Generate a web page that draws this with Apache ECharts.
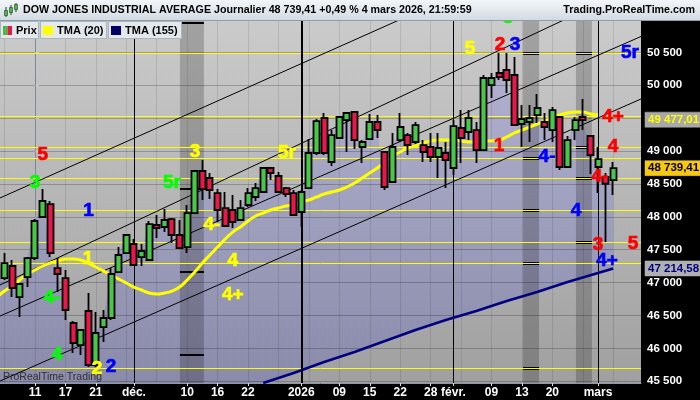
<!DOCTYPE html>
<html><head><meta charset="utf-8">
<script src="https://cdn.jsdelivr.net/npm/echarts@6/dist/echarts.min.js"></script>
<style>html,body{margin:0;padding:0;background:#000;}#c{width:700px;height:400px;}</style>
</head><body><div id="c"></div>
<script>
// ---------- DATA ----------
// trading days; position of each day on the x axis = array index + firstIndex (2025-11-11 = 0)
const firstIndex = -5;
const categories = [
'2025-11-04','2025-11-05','2025-11-06','2025-11-07','2025-11-10','2025-11-11','2025-11-12','2025-11-13','2025-11-14','2025-11-17','2025-11-18','2025-11-19','2025-11-20','2025-11-21','2025-11-24','2025-11-25','2025-11-26','2025-11-28',
'2025-12-01','2025-12-02','2025-12-03','2025-12-04','2025-12-05','2025-12-08','2025-12-09','2025-12-10','2025-12-11','2025-12-12','2025-12-15','2025-12-16','2025-12-17','2025-12-18','2025-12-19','2025-12-22','2025-12-23','2025-12-24','2025-12-26','2025-12-29','2025-12-30','2025-12-31',
'2026-01-02','2026-01-05','2026-01-06','2026-01-07','2026-01-08','2026-01-09','2026-01-12','2026-01-13','2026-01-14','2026-01-15','2026-01-16','2026-01-20','2026-01-21','2026-01-22','2026-01-23','2026-01-26','2026-01-27','2026-01-28','2026-01-29','2026-01-30',
'2026-02-02','2026-02-03','2026-02-04','2026-02-05','2026-02-06','2026-02-09','2026-02-10','2026-02-11','2026-02-12','2026-02-13','2026-02-17','2026-02-18','2026-02-19','2026-02-20','2026-02-23','2026-02-24','2026-02-25','2026-02-26','2026-02-27',
'2026-03-02','2026-03-03','2026-03-04','2026-03-05','2026-03-06','2026-03-09'];

const opens = [null,47069,47252,46780,47084,
47373,47997,48194,47221,47069,46385,46050,46568,45746,46324,
46461,47160,47449,47586,47388,47343,47875,47845,47966,47723,
47540,48057,48696,48590,48361,48133,48103,47951,48179,48301,
48377,48742,48620,48437,48361,48073,48437,48970,49502,48833,
49198,49471,49593,49061,49182,49441,48985,48529,49167,49243,
49137,49091,49061,48909,48970,48742,49350,49289,49319,49015,
50003,50186,50232,50156,49411,49441,49547,49441,49319,49517,
48757,49319,49517,49228,48757,48605,48559,null,null,null];
const closes = [null,47297,46917,46978,47373,
47936,48240,47449,47130,46583,46081,46279,45746,46233,46461,
47130,47419,47723,47267,47480,47890,47829,47951,47723,47525,
48057,48696,48422,48407,48103,47860,47921,48133,48361,48437,
48742,48666,48377,48346,48027,48377,48970,49456,48970,49243,
49517,49578,49167,49137,49441,49319,48453,49061,49365,49091,
49395,48985,48909,49046,48863,49380,49198,49502,49015,50110,
50110,50125,50080,49395,49487,49502,49654,49365,49623,48757,
49167,49471,49471,48939,48878,48502,48739.41,null,null,null];
const lows = [null,47039,46780,46476,46932,
47343,47981,47388,46856,46431,45929,45898,45716,45716,46096,
46431,47145,47434,47252,47252,47328,47677,47768,47601,47510,
47449,48057,48255,48270,47921,47845,47829,47936,48149,48240,
48361,48559,48361,48301,48012,47845,48422,48939,48939,48772,
49182,48985,49030,48818,49167,49198,48407,48513,49137,48939,
49106,48833,48833,48590,48437,48635,48818,49167,48818,49000,
49806,50080,49882,49380,49061,49137,49426,49167,49137,48711,
48742,49167,49319,48650,48361,47616,48331,null,null,null];
const highs = [null,47449,47343,46993,47388,
47966,48422,48240,47373,47191,46415,46279,46841,46552,46583,
47221,47540,47738,47662,47586,47936,48027,48118,47981,47951,
48179,48711,48863,48666,48422,48377,48331,48255,48437,48513,
48757,48757,48681,48453,48407,48407,49182,49487,49578,49319,
49532,49593,49593,49167,49563,49547,48985,49274,49578,49274,
49441,49167,49274,49274,49137,49471,49623,49623,49441,50156,
50186,50490,50490,50429,49699,49699,49867,49578,49669,49517,
49228,49517,49791,49243,49061,48666,48833,null,null,null];
const priorClose = 47150;

const tma20 = [46780,46871,46948,47039,47130,
47191,47252,47297,47328,47358,47358,47343,47297,47236,47176,
47115,47054,46993,46932,46887,46841,46826,46841,46871,46932,
47039,47160,47297,47419,47540,47662,47768,47845,47936,48012,
48057,48103,48133,48164,48179,48225,48255,48301,48346,48377,
48407,48453,48513,48590,48666,48742,48833,48924,48985,49046,
49076,49122,49152,49167,49167,49167,49152,49137,49137,49152,
49152,49167,49213,49274,49319,49365,49411,49456,49502,49547,
49578,49593,49593,49563,49547,null,null,null,null,null];

const tma155Dates = ['2025-12-24','2025-12-31','2026-01-07','2026-01-13','2026-01-20','2026-01-26','2026-01-30','2026-02-05','2026-02-11','2026-02-18','2026-02-24','2026-03-02','2026-03-04'];
const tma155Values = [45473,45625,45792,45944,46111,46279,46431,46567,46719,46856,47008,47145,47214.58];

const levels = [50490,49532,49053,48889,48585,48098,47612,47292,45696];
const yTicks = [45500,46000,46500,47000,47500,48000,48500,49000,49500,50000,50500];
const xTickLabels = {'2025-11-11':'11','2025-11-17':'17','2025-11-21':'21','2025-12-01':'déc.','2025-12-10':'10','2025-12-16':'16','2025-12-22':'22','2026-01-02':'2026','2026-01-09':'09','2026-01-15':'15','2026-01-22':'22','2026-01-28':'28','2026-02-02':'févr.','2026-02-09':'09','2026-02-13':'13','2026-02-20':'20','2026-03-02':'mars'};
const monthStarts = ['2025-12-01','2026-01-02','2026-02-02','2026-03-02'];

// shaded time zones (in trading-day positions) and their level marks
const bandRanges = [[19.05,22.2],[64.15,66.25],[71.1,73.2]];
const bandMarkLevels = [[50951,48422,47160,45898],[50490,48889,48098,47292,45696],[50490,49053,48585,47612]];

// channel lines: [position, value] at both ends
const channelLines = [
  [[-4.6,48286],[79.65,52632]],
  [[-4.6,46963],[79.65,51544]],
  [[-4.6,46491],[79.65,50741]],
  [[-4.6,45503],[79.65,49791]]
];

const waveText  = ['5','3','1','1','4-','4','2','2','3','5r','4-','4','4+','5r','5','2','3','5r','1','4-','4+','4','4-','4','3','5','4+'];
const waveColor = ['r','g','b','y','g','g','y','b','y','g','y','y','y','y','y','r','b','b','r','b','r','r','r','b','r','r','b'];
const waveX     = [1.01,0,7.03,6.97,2.23,2.89,8.15,9.99,21.03,18.0,23.26,26.0,26.0,33.12,57.18,61.12,63.09,78.2,60.99,67.3,75.97,75.97,74.26,71.1,74.0,78.6,75.18];
const waveValue = [48939,48513,48088,47358,46765,45898,45686,45716,48985,48513,47875,47328,46811,48970,50551,50612,50612,50490,49076,48909,49517,49061,48605,48088,47571,47586,47328];

const tagValues = [49477.01,48739.41,47214.58];

// ---------- RENDER ----------
const palette = {r:'#ff0000', g:'#00ff00', b:'#0000ff', y:'#ffff00'};
const tagStyle = [{color:'#ffff00', bg:'#a8a8a8'},{color:'#000000', bg:'#f8c810'},{color:'#000080', bg:'#b0b0b0'}];
const fmtInt = v => Math.round(v).toString().replace(/\B(?=(\d{3})+(?!\d))/g,' ');
const fmtDec = v => { const p = v.toFixed(2).split('.'); return p[0].replace(/\B(?=(\d{3})+(?!\d))/g,' ') + ',' + p[1]; };
const G = echarts.graphic;
const lg = (a,b) => new G.LinearGradient(0,0,0,1,[{offset:0,color:a},{offset:1,color:b}]);
const pos = d => categories.indexOf(d) + firstIndex;

const candleData = [];
categories.forEach((d,k) => { if (opens[k] != null) candleData.push([k+firstIndex, opens[k], closes[k], lows[k], highs[k]]); });
const areaData = [];
closes.forEach((v,k) => { const c = k===0 ? priorClose : v; if (c != null) areaData.push([k+firstIndex, c]); });
const tma20Data = [];
tma20.forEach((v,k) => { if (v != null) tma20Data.push([k+firstIndex, v]); });
const tma155Data = tma155Dates.map((d,i) => [pos(d), tma155Values[i]]);

const labelPositions = Object.keys(xTickLabels).map(pos);
const labelAt = {}; Object.keys(xTickLabels).forEach(d => { labelAt[pos(d)] = xTickLabels[d]; });

const vGrid = []; for (let i = -4; i <= 76; i += 4) vGrid.push({xAxis:i, lineStyle:{color:'rgba(0,0,0,0.1)', width:1}});
const hGrid = yTicks.map(v => ({yAxis:v, lineStyle:{color:'rgba(0,0,0,0.22)', width:1}}));

const bandSegs = [];
bandRanges.forEach((r,bi) => bandMarkLevels[bi].forEach(v => bandSegs.push([{coord:[r[0],v], lineStyle:{color:'#000', width: bi===0?2:3}},{coord:[r[1],v]}])));
const levelLines = levels.map(v => ({yAxis:v, lineStyle:{color:'#ffff00', width:1}}));
const monthLines = monthStarts.map((d,i) => ({xAxis:pos(d), lineStyle:{color:'#000', width: i===1?2:1}}));

const waveData = waveText.map((t,i) => ({name:t, value:[waveX[i], waveValue[i]],
  label:{color: palette[waveColor[i]], textBorderColor: palette[waveColor[i]], textBorderWidth:0.7}}));

const tagLines = tagValues.map((v,i) => ({yAxis:v, label:{show:true, position:'end', distance:4, formatter: fmtDec(v), color: tagStyle[i].color, backgroundColor: tagStyle[i].bg, padding:[2,3,1,3], fontSize:11.5, fontWeight:'bold', fontFamily:'Liberation Sans', borderColor:'#606060', borderWidth:0.5}}));

const option = {
  animation:false,
  backgroundColor:'#000',
  grid:{left:0, top:20, width:641, height:363, show:true, borderWidth:0, backgroundColor: lg('#cbcbcb','#a0a0a0')},
  xAxis:{type:'value', min:-4.6, max:79.65,
    axisLine:{show:true, onZero:false, lineStyle:{color:'#8a9aa8'}},
    axisTick:{show:true, customValues:labelPositions, length:3, lineStyle:{color:'#dddddd'}},
    axisLabel:{customValues:labelPositions, formatter: v => labelAt[Math.round(v)] || '', color:'#fff', fontWeight:'bold', fontSize:12, fontFamily:'Liberation Sans', margin:4, showMinLabel:true, showMaxLabel:true},
    splitLine:{show:false}},
  yAxis:{type:'value', position:'right', min:45473, max:50992,
    axisLine:{show:true, lineStyle:{color:'#8a9aa8'}},
    axisTick:{show:true, length:4, customValues:yTicks, lineStyle:{color:'#fff'}},
    axisLabel:{customValues:yTicks, formatter: fmtInt, color:'#fff', fontWeight:'bold', fontSize:11.5, fontFamily:'Liberation Sans', margin:6},
    splitLine:{show:false}},
  series:[
    {type:'line', name:'area', data:areaData, z:0.3, symbol:'none', silent:true, lineStyle:{width:0, color:'transparent'},
      areaStyle:{color: lg('#b0b0ce','#8a8aaa'), opacity:1},
      markLine:{z:0.9, silent:true, symbol:['none','none'], label:{show:false}, lineStyle:{type:'solid'}, data:[...vGrid, ...hGrid]}},
    {type:'line', name:'cover', data:tma155Data, z:0.6, symbol:'none', silent:true, lineStyle:{width:0, color:'transparent'},
      areaStyle:{color: lg('#adadad','#a0a0a0'), opacity:1},
      markArea:{z:1, silent:true, itemStyle:{color:'rgba(0,0,0,0.2)'}, data: bandRanges.map(r => [{xAxis:r[0]},{xAxis:r[1]}])}},
    {type:'line', name:'levels', data:[], z:2, symbol:'none', silent:true,
      markLine:{z:2, silent:true, symbol:['none','none'], label:{show:false}, lineStyle:{type:'solid'}, data:[...bandSegs, ...levelLines, ...monthLines]}},
    ...channelLines.map(l => ({type:'line', data:l, z:2.5, symbol:'none', silent:true, lineStyle:{color:'#000', width:1}})),
    {type:'line', name:'TMA (20)', data:tma20Data, z:3, symbol:'none', smooth:true, silent:true, lineStyle:{color:'#ffff00', width:3}},
    {type:'line', name:'TMA (155)', data:tma155Data, z:3, symbol:'none', silent:true, lineStyle:{color:'#000080', width:2.5}},
    {type:'candlestick', name:'Prix', data:candleData, z:4, barWidth:6.5, silent:true,
      encode:{x:0, y:[1,2,3,4]},
      itemStyle:{color:'#48c848', color0:'#e8194a', borderColor:'#000', borderColor0:'#000', borderColorDoji:'#000', borderWidth:1.8}},
    {type:'scatter', name:'waves', data:waveData, z:5, symbolSize:1, silent:true, itemStyle:{color:'rgba(0,0,0,0)'},
      label:{show:true, position:'inside', formatter:'{b}', fontSize:19, fontWeight:'bold', fontFamily:'Liberation Sans', opacity:1},
      markLine:{z:6, silent:true, symbol:['none','none'], lineStyle:{color:'rgba(0,0,0,0)', width:1}, data: tagLines}}
  ],
  graphic:[
    {type:'rect', z:100, shape:{x:0,y:0,width:700,height:20}, style:{fill: lg('#f3f6f9','#d2dbe2')}},
    {type:'line', z:100, shape:{x1:0,y1:20.5,x2:700,y2:20.5}, style:{stroke:'#8d9eab', lineWidth:1}},
    {type:'line', z:101, shape:{x1:6,y1:7,x2:6,y2:17}, style:{stroke:'#333', lineWidth:1}},
    {type:'rect', z:102, shape:{x:4.5,y:10.5,width:3,height:5}, style:{fill:'#40c040', stroke:'#333', lineWidth:0.6}},
    {type:'line', z:101, shape:{x1:11,y1:5,x2:11,y2:15}, style:{stroke:'#333', lineWidth:1}},
    {type:'rect', z:102, shape:{x:9.5,y:7.5,width:3,height:5}, style:{fill:'#40c040', stroke:'#333', lineWidth:0.6}},
    {type:'line', z:101, shape:{x1:16,y1:3,x2:16,y2:12}, style:{stroke:'#333', lineWidth:1}},
    {type:'rect', z:102, shape:{x:14.5,y:4.5,width:3,height:5}, style:{fill:'#40c040', stroke:'#333', lineWidth:0.6}},
    {type:'text', z:101, x:23, y:10.5, style:{text:'DOW JONES INDUSTRIAL AVERAGE Journalier 48 739,41 +0,49 % 4 mars 2026, 21:59:59', font:'bold 10.7px "Liberation Sans"', fill:'#000', verticalAlign:'middle'}},
    {type:'text', z:101, x:695, y:10.5, style:{text:'Trading.ProRealTime.com', font:'bold 10.7px "Liberation Sans"', fill:'#000', align:'right', verticalAlign:'middle'}},
    {type:'text', z:50, x:508, y:17.5, style:{text:'3', font:'bold 19px "Liberation Sans"', fill:'#00ff00', stroke:'#00ff00', lineWidth:0.7, align:'center', verticalAlign:'middle'}},
    {type:'rect', z:100, shape:{x:0.5,y:21.5,width:38,height:17}, style:{fill:'#e3e8ec', stroke:'#aab5be', lineWidth:1}},
    {type:'rect', z:100, shape:{x:40.5,y:21.5,width:66,height:17}, style:{fill:'#e3e8ec', stroke:'#aab5be', lineWidth:1}},
    {type:'rect', z:100, shape:{x:108.5,y:21.5,width:73,height:17}, style:{fill:'#e3e8ec', stroke:'#aab5be', lineWidth:1}},
    {type:'rect', z:101, shape:{x:3,y:26,width:4.5,height:9}, style:{fill:'#40c040'}},
    {type:'rect', z:101, shape:{x:7.5,y:26,width:4.5,height:9}, style:{fill:'#e8194a'}},
    {type:'rect', z:101, shape:{x:43,y:26,width:10,height:9}, style:{fill:'#ffff00'}},
    {type:'rect', z:101, shape:{x:111,y:26,width:10,height:9}, style:{fill:'#000066'}},
    {type:'text', z:101, x:16, y:30.5, style:{text:'Prix', font:'bold 11px "Liberation Sans"', fill:'#000', verticalAlign:'middle'}},
    {type:'text', z:101, x:57, y:30.5, style:{text:'TMA (20)', font:'bold 11px "Liberation Sans"', fill:'#000', verticalAlign:'middle'}},
    {type:'text', z:101, x:125, y:30.5, style:{text:'TMA (155)', font:'bold 11px "Liberation Sans"', fill:'#000', verticalAlign:'middle'}},
    {type:'text', z:100, x:3, y:377, style:{text:'ProRealTime Trading', font:'10.5px "Liberation Sans"', fill:'#303030', verticalAlign:'middle'}}
  ]
};
const chart = echarts.init(document.getElementById('c'), null, {width:700, height:400});
chart.setOption(option);
</script></body></html>
